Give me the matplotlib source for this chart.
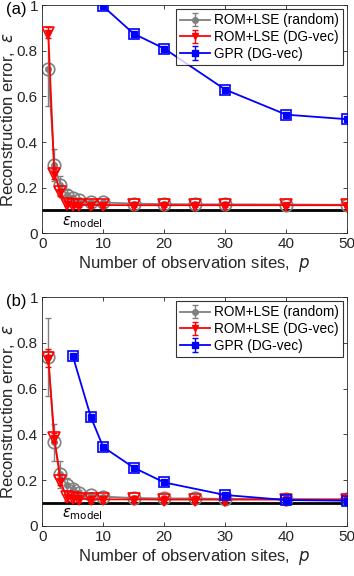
import matplotlib.pyplot as plt
import numpy as np

plt.rcParams['font.family'] = ['Liberation Sans', 'DejaVu Sans']
plt.rcParams['mathtext.fontset'] = 'dejavusans'

p_rom = [1, 2, 3, 4, 5, 6, 8, 10, 15, 20, 25, 30, 40, 50]

# panel (a)
rand_a = [0.72, 0.30, 0.21, 0.17, 0.155, 0.145, 0.138, 0.135, 0.130, 0.128, 0.127, 0.127, 0.126, 0.125]
rand_a_err = [0.16, 0.07, 0.04, 0.02, 0.012, 0.01, 0.008, 0.006, 0.005, 0.004, 0.004, 0.004, 0.003, 0.003]
dg_a = [0.88, 0.26, 0.18, 0.13, 0.125, 0.125, 0.124, 0.124, 0.123, 0.123, 0.123, 0.123, 0.123, 0.123]
dg_a_err = [0.025, 0.02, 0.015, 0.01, 0.008, 0.008, 0.008, 0.008, 0.008, 0.008, 0.008, 0.008, 0.008, 0.008]
p_gpr_a = [10, 15, 20, 30, 40, 50]
gpr_a = [0.995, 0.875, 0.81, 0.63, 0.52, 0.50]
gpr_a_err = [0.008, 0.008, 0.008, 0.008, 0.008, 0.008]

# panel (b)
rand_b = [0.74, 0.365, 0.225, 0.18, 0.16, 0.145, 0.135, 0.128, 0.122, 0.12, 0.12, 0.118, 0.117, 0.116]
rand_b_err = [0.17, 0.08, 0.06, 0.03, 0.02, 0.012, 0.008, 0.006, 0.005, 0.004, 0.004, 0.004, 0.003, 0.003]
dg_b = [0.735, 0.385, 0.195, 0.125, 0.12, 0.118, 0.117, 0.116, 0.116, 0.115, 0.115, 0.115, 0.115, 0.115]
dg_b_err = [0.04, 0.02, 0.015, 0.015, 0.015, 0.015, 0.015, 0.015, 0.015, 0.015, 0.015, 0.015, 0.015, 0.015]
p_gpr_b = [5, 8, 10, 15, 20, 30, 40, 50]
gpr_b = [0.745, 0.475, 0.345, 0.255, 0.19, 0.135, 0.113, 0.11]
gpr_b_err = [0.008, 0.01, 0.008, 0.008, 0.008, 0.008, 0.006, 0.006]

eps_model = 0.1

fig = plt.figure(figsize=(3.54, 5.76), dpi=100)
ax_a = fig.add_axes([0.119, 0.595, 0.862, 0.396])
ax_b = fig.add_axes([0.119, 0.087, 0.862, 0.397])

gray = (0.5, 0.5, 0.5)


def draw_panel(ax, rnd, rnd_err, dg, dg_err, pg, gp, gp_err, tag):
    ax.axhline(eps_model, color='k', lw=2, zorder=1)
    h1 = ax.errorbar(p_rom, rnd, yerr=rnd_err, color=gray, lw=1.3, marker='o', ms=4,
                     capsize=2.5, elinewidth=1.0, label='ROM+LSE (random)', zorder=2)
    ax.plot(p_rom, rnd, 'o', ms=9, mfc='none', mec=gray, mew=1.2, zorder=2)
    h2 = ax.errorbar(p_rom, dg, yerr=dg_err, color='red', lw=1.3, marker='v', ms=5,
                     capsize=2.5, elinewidth=1.0, label='ROM+LSE (DG-vec)', zorder=3)
    ax.plot(p_rom, dg, 'v', ms=9, mfc='none', mec='red', mew=1.2, zorder=3)
    h3 = ax.errorbar(pg, gp, yerr=gp_err, color='blue', lw=1.3, marker='s', ms=4,
                     capsize=2.5, elinewidth=1.0, label='GPR (DG-vec)', zorder=4)
    ax.plot(pg, gp, 's', ms=7, mfc='none', mec='blue', mew=1.2, zorder=4)

    ax.set_xlim(0, 50)
    ax.set_ylim(0, 1)
    ax.set_xticks([0, 10, 20, 30, 40, 50])
    ax.set_yticks([0, 0.2, 0.4, 0.6, 0.8, 1])
    ax.set_yticklabels(['0', '0.2', '0.4', '0.6', '0.8', '1'])
    ax.tick_params(direction='in', top=True, right=True, labelsize=11,
                   colors='#262626', length=3, width=0.6, pad=3)
    for s in ax.spines.values():
        s.set_color('#262626')
        s.set_linewidth(0.6)
    ax.set_xlabel('Number of observation sites,  $p$', fontsize=12, color='#262626', labelpad=2)
    ax.set_ylabel(r'Reconstruction error,  $\epsilon$', fontsize=12, color='#262626', labelpad=0)
    ax.text(3.3, 0.085, r'$\epsilon_{\mathrm{model}}$', fontsize=10.5, va='top', ha='left')
    ax.text(-0.12, 1.012, tag, transform=ax.transAxes, fontsize=12, va='top', ha='left')
    leg = ax.legend(handles=[h1, h2, h3], loc='upper right', fontsize=9.8, frameon=True,
                    fancybox=False, edgecolor='k', handlelength=2.2, handletextpad=0.3,
                    borderpad=0.3, labelspacing=0.2, borderaxespad=0.3)
    leg.get_frame().set_linewidth(0.8)


draw_panel(ax_a, rand_a, rand_a_err, dg_a, dg_a_err, p_gpr_a, gpr_a, gpr_a_err, '(a)')
draw_panel(ax_b, rand_b, rand_b_err, dg_b, dg_b_err, p_gpr_b, gpr_b, gpr_b_err, '(b)')

fig.savefig('out.png', dpi=100)
